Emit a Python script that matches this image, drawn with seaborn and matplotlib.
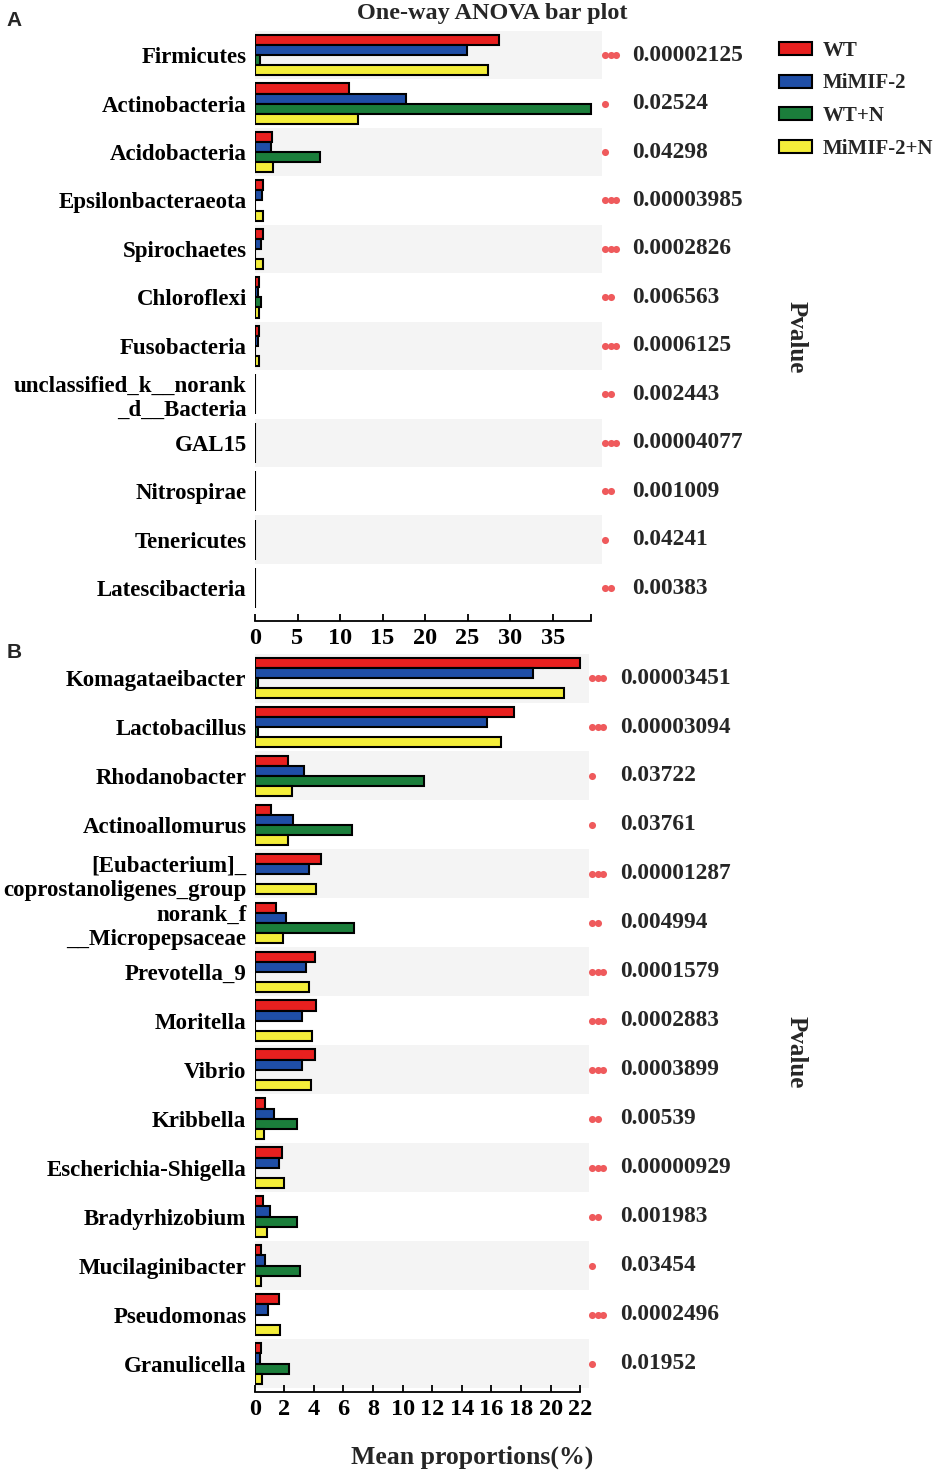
import numpy as np
import pandas as pd
import seaborn as sns
import matplotlib.pyplot as plt
from matplotlib.patches import Patch
from matplotlib.transforms import blended_transform_factory

sns.set_theme(style='ticks')
plt.rcParams['font.family'] = ['Liberation Serif', 'DejaVu Serif']
plt.rcParams['font.weight'] = 'bold'
plt.rcParams['axes.edgecolor'] = 'black'
plt.rcParams['xtick.color'] = 'black'
plt.rcParams['ytick.color'] = 'black'

groups = ['WT', 'MiMIF-2', 'WT+N', 'MiMIF-2+N']
colors = ['#e8201f', '#1f4ea6', '#1b7e3b', '#f4ee3a']

# panel A - phylum level
phyla = ['Firmicutes', 'Actinobacteria', 'Acidobacteria', 'Epsilonbacteraeota',
         'Spirochaetes', 'Chloroflexi', 'Fusobacteria',
         'unclassified_k__norank\n_d__Bacteria', 'GAL15', 'Nitrospirae',
         'Tenericutes', 'Latescibacteria']
phy_wt = [28.7, 11.1, 2.0, 0.9, 0.9, 0.5, 0.47, 0.04, 0.03, 0.03, 0.02, 0.02]
phy_mimif = [24.9, 17.8, 1.9, 0.79, 0.7, 0.3, 0.35, 0.03, 0.02, 0.03, 0.02, 0.02]
phy_wtn = [0.6, 39.5, 7.7, 0.05, 0.05, 0.7, 0.02, 0.02, 0.05, 0.04, 0.03, 0.02]
phy_mimifn = [27.4, 12.1, 2.1, 0.9, 0.9, 0.5, 0.47, 0.03, 0.02, 0.03, 0.02, 0.02]
phy_p = ['0.00002125', '0.02524', '0.04298', '0.00003985', '0.0002826', '0.006563',
         '0.0006125', '0.002443', '0.00004077', '0.001009', '0.04241', '0.00383']
phy_ticks = [0, 5, 10, 15, 20, 25, 30, 35]

# panel B - genus level
genera = ['Komagataeibacter', 'Lactobacillus', 'Rhodanobacter', 'Actinoallomurus',
          '[Eubacterium]_\ncoprostanoligenes_group', 'norank_f\n__Micropepsaceae',
          'Prevotella_9', 'Moritella', 'Vibrio', 'Kribbella', 'Escherichia-Shigella',
          'Bradyrhizobium', 'Mucilaginibacter', 'Pseudomonas', 'Granulicella']
gen_wt = [22.0, 17.55, 2.23, 1.1, 4.48, 1.44, 4.08, 4.14, 4.05, 0.72, 1.87, 0.54, 0.43, 1.66, 0.4]
gen_mimif = [18.84, 15.7, 3.36, 2.57, 3.7, 2.1, 3.5, 3.18, 3.22, 1.33, 1.64, 1.06, 0.7, 0.92, 0.35]
gen_wtn = [0.2, 0.2, 11.45, 6.56, 0.0, 6.74, 0.0, 0.0, 0.0, 2.84, 0.0, 2.84, 3.06, 0.0, 2.34]
gen_mimifn = [20.9, 16.65, 2.55, 2.27, 4.14, 1.94, 3.65, 3.85, 3.79, 0.65, 1.96, 0.81, 0.45, 1.69, 0.49]
gen_p = ['0.00003451', '0.00003094', '0.03722', '0.03761', '0.00001287', '0.004994',
         '0.0001579', '0.0002883', '0.0003899', '0.00539', '0.00000929', '0.001983',
         '0.03454', '0.0002496', '0.01952']
gen_ticks = [0, 2, 4, 6, 8, 10, 12, 14, 16, 18, 20, 22]


def panel(ax, taxa, vals, pvals, ticks, xmax, off, ptxt_x):
    arr = np.column_stack(vals)
    df = pd.DataFrame({'taxon': np.repeat(taxa, len(groups)),
                       'group': groups * len(taxa),
                       'value': arr.ravel()})
    n = len(taxa)
    for i in range(0, n, 2):
        ax.axhspan(i - 0.5, i + 0.5, color='#f4f4f4', lw=0, zorder=0)
    sns.barplot(data=df, x='value', y='taxon', hue='group', hue_order=groups,
                palette=colors, saturation=1, orient='h', width=0.83,
                edgecolor='black', linewidth=1.5, errorbar=None, legend=False,
                ax=ax, zorder=2)
    ax.set_xlim(0, xmax)
    ax.set_ylim(n - 0.5, -0.5)
    ax.set_xlabel('')
    ax.set_ylabel('')
    sns.despine(ax=ax, left=True, offset={'bottom': off})
    vmax = arr.max()
    ax.spines['bottom'].set_bounds(0, vmax)
    ax.spines['bottom'].set_linewidth(1.3)
    ax.set_xticks(ticks)
    if vmax not in ticks:
        ax.set_xticks([vmax], minor=True)
    ax.tick_params(axis='x', which='both', direction='in', length=5, width=1.3,
                   labelsize=17.5, pad=5)
    ax.tick_params(axis='y', length=0, labelsize=16.5, pad=6)
    for lbl in ax.get_yticklabels():
        lbl.set_multialignment('right')
        lbl.set_linespacing(1.2)
    trans = blended_transform_factory(ax.transAxes, ax.transData)
    for i, p in enumerate(pvals):
        pv = float(p)
        k = 3 if pv < 0.001 else (2 if pv < 0.01 else 1)
        xs = 1.009 + 0.0165 * np.arange(k)
        ax.scatter(xs, [i] * k, s=26, color='#ef5a5c', lw=0,
                   transform=trans, clip_on=False, zorder=3)
        ax.text(ptxt_x, i, p, transform=trans, ha='left', va='center',
                fontsize=16.8, fontweight='bold')


fig = plt.figure(figsize=(9.35, 14.71), dpi=100)
axA = fig.add_axes([0.2727, 0.5837, 0.3708, 0.3953])
axB = fig.add_axes([0.2724, 0.0564, 0.3579, 0.4993])

panel(axA, phyla, [phy_wt, phy_mimif, phy_wtn, phy_mimifn], phy_p, phy_ticks,
      40.76, 6, 1.087)
panel(axB, genera, [gen_wt, gen_mimif, gen_wtn, gen_mimifn], gen_p, gen_ticks,
      22.62, 3, 1.092)

fig.text(492 / 935, 1 - 13 / 1471, 'One-way ANOVA bar plot', ha='center', va='center',
         fontsize=17.5, fontweight='bold')
fig.text(14 / 935, 1 - 20 / 1471, 'A', ha='center', va='center', fontsize=15,
         fontweight='bold', family='Liberation Sans')
fig.text(14 / 935, 1 - 652 / 1471, 'B', ha='center', va='center', fontsize=15,
         fontweight='bold', family='Liberation Sans')
fig.text(796 / 935, 1 - 337 / 1471, 'Pvalue', rotation=-90, ha='center', va='center',
         fontsize=18, fontweight='bold')
fig.text(796 / 935, 1 - 1052 / 1471, 'Pvalue', rotation=-90, ha='center', va='center',
         fontsize=18, fontweight='bold')
fig.text(472 / 935, 1 - 1457 / 1471, 'Mean proportions(%)', ha='center', va='center',
         fontsize=18.5, fontweight='bold')

handles = [Patch(facecolor=c, edgecolor='black', linewidth=1.5) for c in colors]
fig.legend(handles, groups, loc='upper left', bbox_to_anchor=(779 / 935, 1 - 41 / 1471),
           frameon=False, fontsize=15, handlelength=1.6, handleheight=0.58,
           handletextpad=0.48, labelspacing=0.6, borderpad=0, borderaxespad=0)

fig.savefig('out.png', dpi=100)
